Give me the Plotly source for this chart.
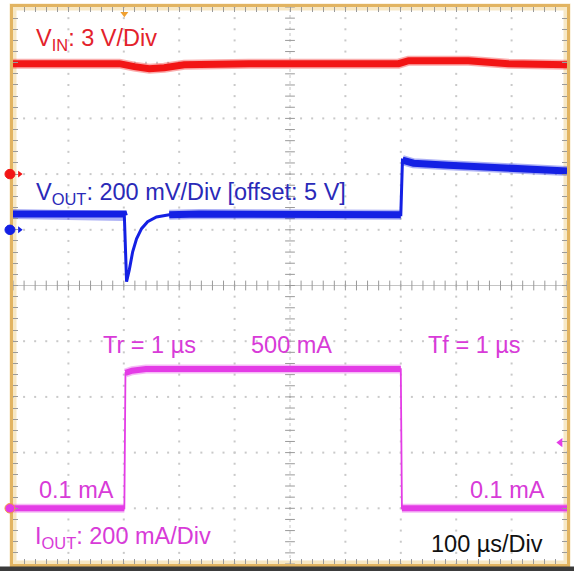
import numpy as np
import plotly.graph_objects as go

# ---- Time base: 100 us/div over 10 divisions ----
TIME_PER_DIV_US = 100
N_DIV = 10

# ---- Channel 1: input voltage (3 V/div, ground marker on division 7) ----
t_vin_us = [0, 192, 219, 246, 273, 309, 426, 696, 714, 822, 894, 1000]
vin_v = [5.95, 5.95, 5.79, 5.68, 5.73, 5.89, 5.95, 5.95, 6.11, 6.11, 5.95, 5.89]

# ---- Channel 2: output voltage (200 mV/div, 5 V offset on division 6) ----
t_vout_us = [0, 200, 201, 205, 210, 216, 223, 232, 243, 259, 282, 336,
             700, 703, 723, 786, 876, 1000]
vout_v = [5.057, 5.057, 5.050, 4.814, 4.857, 4.921, 4.968, 5.004, 5.029, 5.046,
          5.054, 5.057, 5.054, 5.250, 5.239, 5.232, 5.221, 5.211]

# ---- Channel 3: output current (200 mA/div, zero on division 1) ----
t_iout_us = [0, 201, 203, 215, 240, 700, 702, 1000]
iout_ma = [0.1, 0.1, 486, 494, 500, 500, 0.1, 0.1]

# channel scale settings
VIN_PER_DIV, VIN_REF_DIV, VIN_REF = 3.0, 7, 0.0
VOUT_PER_DIV, VOUT_REF_DIV, VOUT_REF = 0.2, 6, 5.0
IOUT_PER_DIV, IOUT_REF_DIV, IOUT_REF = 200.0, 1, 0.0
TRIG_LEVEL_MA = 236
TRIG_TIME_US = 201


def chan_range(per_div, ref_div, ref):
    return [ref - ref_div * per_div, ref + (N_DIV - ref_div) * per_div]


RED, RED_TXT = "#f21515", "#e3222b"
BLUE, BLUE_TXT = "#1420e4", "#2a2ab8"
MAG, MAG_TXT = "#e43ce6", "#d83bd8"
FRAME = "#e2b461"
GRID = "#9a9a9a"
FONT = "Arial, Liberation Sans, sans-serif"
FSIZE = 23.5

fig = go.Figure()

# graticule dots every 1/5 division along each major grid line
minor = np.arange(0, N_DIV + 0.001, 0.2)
gx, gy = [], []
for k in range(1, N_DIV):
    if k == 5:
        continue
    gx += [k * TIME_PER_DIV_US] * len(minor)
    gy += list(minor)
    gx += list(minor * TIME_PER_DIV_US)
    gy += [k] * len(minor)
fig.add_trace(go.Scatter(x=gx, y=gy, mode="markers", hoverinfo="skip",
                         marker=dict(size=2, color="#c9c9c9", symbol="square"),
                         showlegend=False))

# centre cross-hair with tick marks
fig.add_trace(go.Scatter(x=[0, N_DIV * TIME_PER_DIV_US], y=[5, 5], mode="lines",
                         line=dict(color="#c4c4c4", width=1), showlegend=False,
                         hoverinfo="skip"))
fig.add_trace(go.Scatter(x=[500, 500], y=[0, N_DIV], mode="lines",
                         line=dict(color="#c4c4c4", width=1, dash="dot"),
                         showlegend=False, hoverinfo="skip"))
fig.add_trace(go.Scatter(x=list(minor * TIME_PER_DIV_US), y=[5] * len(minor),
                         mode="markers", hoverinfo="skip", showlegend=False,
                         marker=dict(symbol="line-ns-open", size=7, color=GRID,
                                     line=dict(color=GRID, width=1))))
fig.add_trace(go.Scatter(x=[500] * len(minor), y=list(minor),
                         mode="markers", hoverinfo="skip", showlegend=False,
                         marker=dict(symbol="line-ew-open", size=7, color=GRID,
                                     line=dict(color=GRID, width=1))))


def band(x, y, color, axis, width, haze=True):
    if haze:
        fig.add_trace(go.Scatter(x=x, y=y, yaxis=axis, mode="lines", opacity=0.35,
                                 line=dict(color=color, width=width + 3),
                                 showlegend=False, hoverinfo="skip"))
    fig.add_trace(go.Scatter(x=x, y=y, yaxis=axis, mode="lines",
                             line=dict(color=color, width=width),
                             showlegend=False, hoverinfo="skip"))


# VIN
band(t_vin_us, vin_v, RED, "y2", 7)

# VOUT: thin full trace + thick flat sections
band(t_vout_us, vout_v, BLUE, "y3", 3, haze=False)
for a, b in [(0, 3), (10, 13), (13, 18)]:
    band(t_vout_us[a:b], vout_v[a:b], BLUE, "y3", 7)

# IOUT: thin edges + thick levels
band(t_iout_us, iout_ma, MAG, "y4", 1.8, haze=False)
for a, b in [(0, 2), (2, 6), (6, 8)]:
    band(t_iout_us[a:b], iout_ma[a:b], MAG, "y4", 6)

# channel reference markers at the left edge (circle + small arrow)
for ydiv, col, edge in [(VIN_REF_DIV, RED, RED), (VOUT_REF_DIV, BLUE, BLUE),
                        (IOUT_REF_DIV, MAG, "#f0a040")]:
    fig.add_shape(type="circle", xref="paper", yref="y",
                  x0=-0.0145, x1=0.0035, y0=ydiv - 0.085, y1=ydiv + 0.085,
                  fillcolor=col, line=dict(color=edge, width=1), layer="above")
    if col != MAG:
        fig.add_trace(go.Scatter(x=[12], y=[ydiv], mode="markers", cliponaxis=False,
                                 marker=dict(size=6, color=col, symbol="triangle-right"),
                                 showlegend=False, hoverinfo="skip"))

# trigger level (right) and trigger position (top)
fig.add_trace(go.Scatter(x=[988], y=[TRIG_LEVEL_MA], yaxis="y4", mode="markers",
                         cliponaxis=False,
                         marker=dict(size=8, color=MAG, symbol="triangle-left"),
                         showlegend=False, hoverinfo="skip"))
fig.add_trace(go.Scatter(x=[TRIG_TIME_US], y=[9.88], mode="markers", cliponaxis=False,
                         marker=dict(size=7, color="#f0a030", symbol="triangle-down"),
                         showlegend=False, hoverinfo="skip"))


# labels
def label(x, y, text, color):
    fig.add_annotation(x=x, y=y, xref="x", yref="y", text=text, showarrow=False,
                       xanchor="left", yanchor="middle", borderpad=0,
                       font=dict(family=FONT, size=FSIZE, color=color))


label(40, 9.42, "V<sub>IN</sub>: 3 V/Div", RED_TXT)
label(40, 6.66, "V<sub>OUT</sub>: 200 mV/Div [offset: 5 V]", BLUE_TXT)
label(160, 3.93, "Tr = 1 µs", MAG_TXT)
label(428, 3.93, "500 mA", MAG_TXT)
label(748, 3.93, "Tf = 1 µs", MAG_TXT)
label(46, 1.33, "0.1 mA", MAG_TXT)
label(823, 1.33, "0.1 mA", MAG_TXT)
label(38, 0.48, "I<sub>OUT</sub>: 200 mA/Div", MAG_TXT)
label(753, 0.36, "100 µs/Div", "#111111")

# soft outer glow of the frame and the dark strip underneath
fig.add_shape(type="rect", xref="paper", yref="paper", x0=0, x1=1, y0=0, y1=1,
              line=dict(color="rgba(240,214,150,0.55)", width=7), layer="below")
fig.add_shape(type="rect", xref="paper", yref="paper", x0=-0.03, x1=1.02,
              y0=-0.02, y1=-0.0045, line=dict(width=0), fillcolor="#3b3b3b")

axis_common = dict(showgrid=False, zeroline=False, showticklabels=False,
                   showline=True, linecolor=FRAME, linewidth=2.5, mirror="ticks",
                   ticks="inside", ticklen=5, tickwidth=1, tickcolor=GRID)

fig.update_layout(
    width=574, height=571,
    margin=dict(l=13, r=5, t=4, b=7),
    paper_bgcolor="white", plot_bgcolor="white",
    xaxis=dict(range=[0, N_DIV * TIME_PER_DIV_US], dtick=TIME_PER_DIV_US / 5,
               tick0=0, **axis_common),
    yaxis=dict(range=[0, N_DIV], dtick=0.2, tick0=0, **axis_common),
    yaxis2=dict(range=chan_range(VIN_PER_DIV, VIN_REF_DIV, VIN_REF),
                overlaying="y", visible=False),
    yaxis3=dict(range=chan_range(VOUT_PER_DIV, VOUT_REF_DIV, VOUT_REF),
                overlaying="y", visible=False),
    yaxis4=dict(range=chan_range(IOUT_PER_DIV, IOUT_REF_DIV, IOUT_REF),
                overlaying="y", visible=False),
    showlegend=False,
)

fig.write_html("out.html")
